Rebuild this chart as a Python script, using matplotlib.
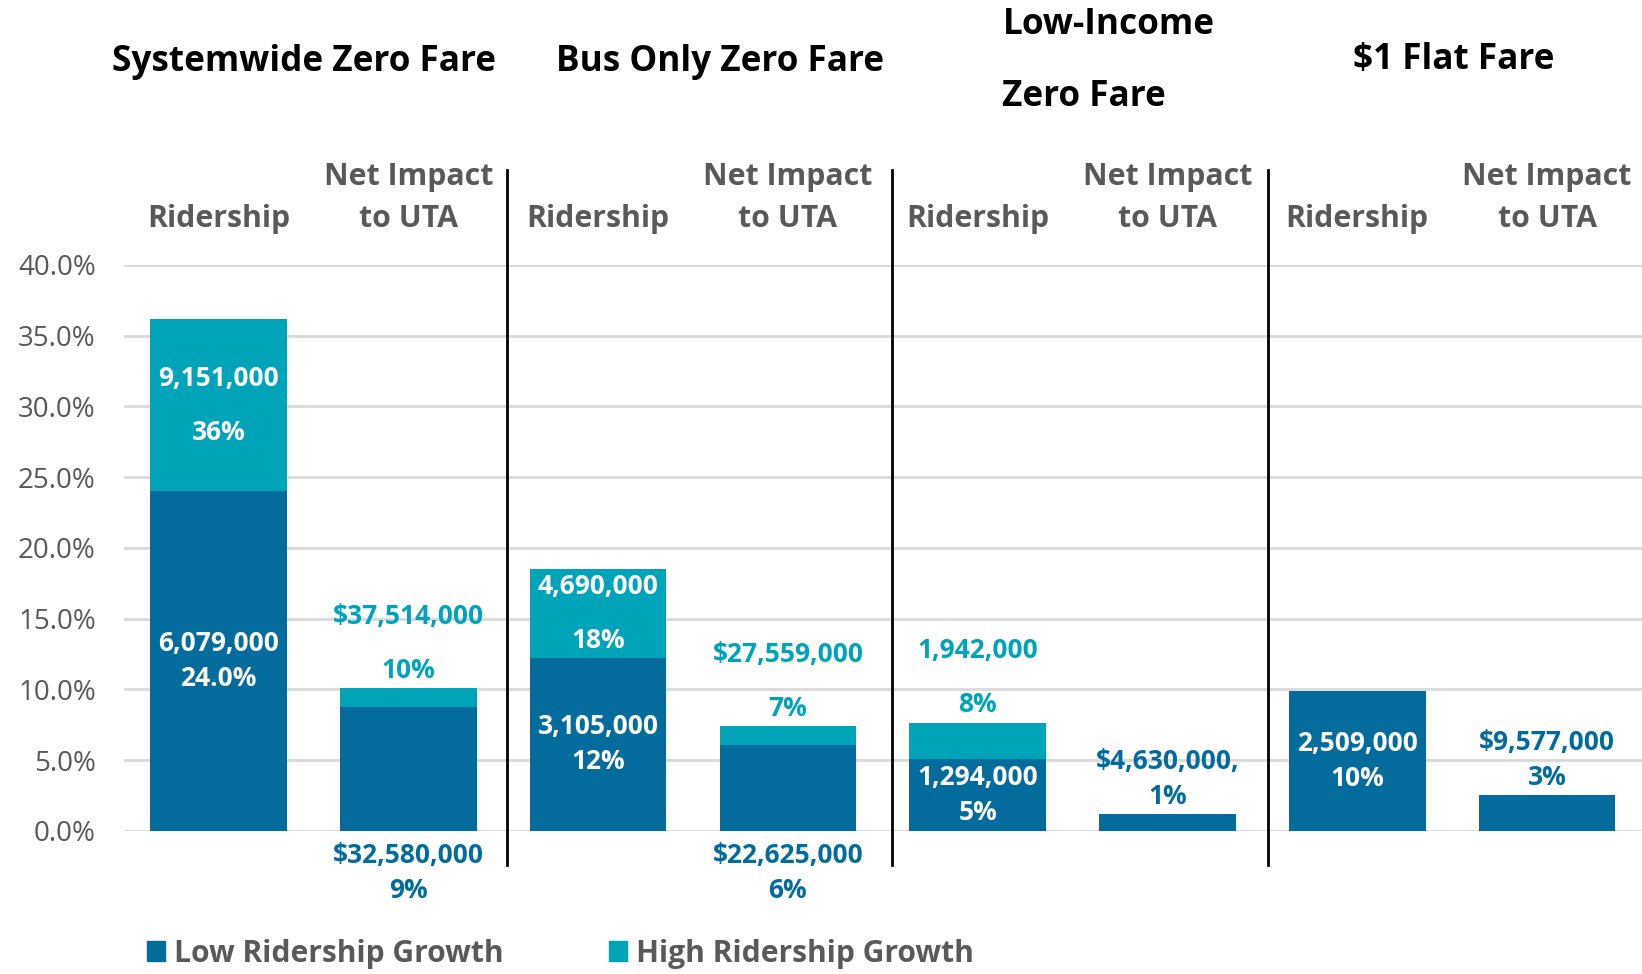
# -*- coding: utf-8 -*-

"""
Fare scenarios: ridership growth and net impact to UTA
"""
import numpy as np
import matplotlib.pyplot as plt
from matplotlib.ticker import PercentFormatter
from matplotlib.patches import Patch

###############################################################################
# data:

groups = ['Systemwide Zero Fare', 'Bus Only Zero Fare', 'Low-Income\nZero Fare', '$1 Flat Fare']
metrics = ['Ridership', 'Net Impact\nto UTA']

# bar heights in percent, one entry per bar (ridership, net impact) x group
low_pct = [24.0, 8.74, 12.24, 6.07, 5.08, 1.18, 9.87, 2.52]
high_pct = [36.15, 10.07, 18.5, 7.38, 7.65, np.nan, np.nan, np.nan]

low_labels = ['6,079,000\n24.0%', '$32,580,000\n9%', '3,105,000\n12%', '$22,625,000\n6%',
              '1,294,000\n5%', '$4,630,000,\n1%', '2,509,000\n10%', '$9,577,000\n3%']
high_labels = ['9,151,000\n36%', '$37,514,000\n10%', '4,690,000\n18%', '$27,559,000\n7%',
               '1,942,000\n8%', None, None, None]

series_names = ['Low Ridership Growth', 'High Ridership Growth']

###############################################################################
# styles:

c_low = '#036c9c'
c_high = '#00a4b8'
c_grey = '#595959'
c_grid = '#d9d9d9'

# where each data label goes
low_where = ['in', 'below', 'in', 'below', 'in', 'above', 'in', 'above']
high_where = ['in', 'above', 'in', 'above', 'above', None, None, None]

plt.rcParams['font.family'] = ['Open Sans', 'DejaVu Sans']

label_fs = 19
head_fs = 21.8
title_fs = 25.3
low_ls = 1.4
high_ls = 2.3

###############################################################################
# plot:

fig = plt.figure(figsize=(16.42, 9.74), dpi=100)
ax = fig.add_axes([0.0753, 0.147, 0.9247, 0.581])

x = np.arange(len(low_pct))
low = np.array(low_pct)
high = np.array(high_pct)
extra = np.where(np.isnan(high), 0.0, high - low)

ax.bar(x, low, width=0.72, color=c_low, zorder=3, label=series_names[0])
ax.bar(x, extra, width=0.72, bottom=low, color=c_high, zorder=3, label=series_names[1],
       edgecolor='none')

ax.set_xlim(-0.5, 7.5)
ax.set_ylim(0, 40)
ax.set_yticks(np.arange(0, 41, 5))
ax.yaxis.set_major_formatter(PercentFormatter(decimals=1))
ax.tick_params(axis='y', length=0, labelsize=20, labelcolor=c_grey, pad=20)
ax.set_xticks([])
ax.grid(axis='y', color=c_grid, linewidth=2, zorder=0)
for s in ax.spines.values():
    s.set_visible(False)

# data labels
for i in range(len(x)):
    top = low[i] if np.isnan(high[i]) else high[i]
    # low series
    w = low_where[i]
    if w == 'in':
        ax.text(x[i], low[i] / 2, low_labels[i], ha='center', va='center', color='white',
                fontsize=label_fs, fontweight='bold', linespacing=low_ls, zorder=5)
    elif w == 'below':
        ax.annotate(low_labels[i], (x[i], 0), xytext=(0, -8), textcoords='offset points',
                    ha='center', va='top', color=c_low, fontsize=label_fs,
                    fontweight='bold', linespacing=low_ls, annotation_clip=False)
    elif w == 'above':
        ax.annotate(low_labels[i], (x[i], top), xytext=(0, 3), textcoords='offset points',
                    ha='center', va='bottom', color=c_low, fontsize=label_fs,
                    fontweight='bold', linespacing=low_ls, annotation_clip=False)
    # high series
    w = high_where[i]
    if w == 'in':
        ax.text(x[i], (low[i] + high[i]) / 2, high_labels[i], ha='center', va='center',
                color='white', fontsize=label_fs, fontweight='bold', linespacing=high_ls,
                zorder=5)
    elif w == 'above':
        ax.annotate(high_labels[i], (x[i], top), xytext=(0, 3), textcoords='offset points',
                    ha='center', va='bottom', color=c_high, fontsize=label_fs,
                    fontweight='bold', linespacing=high_ls, annotation_clip=False)

# column headers above each bar
for i in range(len(x)):
    ax.text(x[i], 42.2, metrics[i % 2], ha='center', va='bottom', color=c_grey,
            fontsize=head_fs, fontweight='bold', linespacing=1.5, clip_on=False)

# group titles
ax.text(0.45, 54.35, groups[0], ha='center', va='center', fontsize=title_fs,
        fontweight='bold', color='black')
ax.text(2.64, 54.35, groups[1], ha='center', va='center', fontsize=title_fs,
        fontweight='bold', color='black')
ax.text(4.13, 54.4, groups[2], ha='left', va='center', fontsize=title_fs,
        fontweight='bold', color='black', linespacing=2.35)
ax.text(6.51, 54.5, groups[3], ha='center', va='center', fontsize=title_fs,
        fontweight='bold', color='black')

# group dividers
for xd in [1.52, 3.55, 5.53]:
    ax.plot([xd, xd], [-2.44, 46.7], color='black', linewidth=2, clip_on=False, zorder=4)

# legend
handles = [Patch(color=c_low, label=series_names[0]), Patch(color=c_high, label=series_names[1])]
leg = fig.legend(handles=handles, loc='center left', bbox_to_anchor=(0.082, 0.021),
                 ncol=2, frameon=False, handlelength=0.62, handleheight=0.62,
                 handletextpad=0.3, columnspacing=3.5, borderaxespad=0.0,
                 prop={'size': 21.6, 'weight': 'bold'})
for t in leg.get_texts():
    t.set_color(c_grey)

fig.savefig('out.png', dpi=100)
